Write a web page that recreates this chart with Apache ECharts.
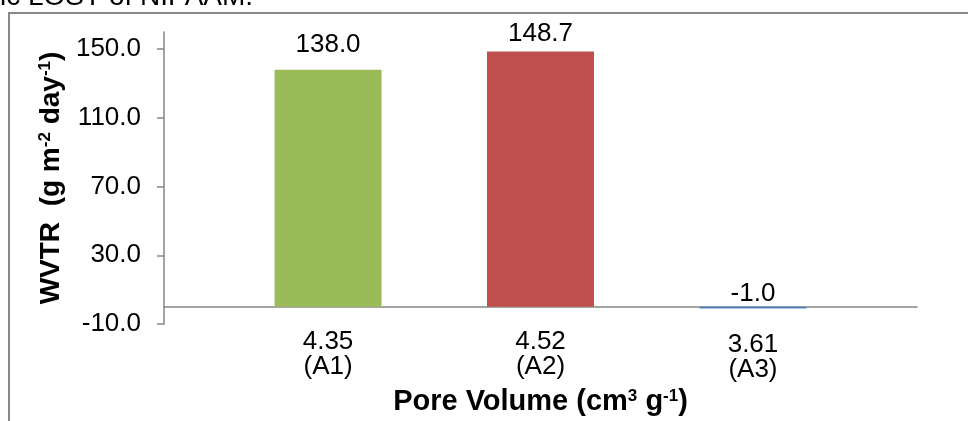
<!DOCTYPE html>
<html><head><meta charset="utf-8">
<script src="https://cdn.jsdelivr.net/npm/echarts@6/dist/echarts.min.js"></script>
<style>html,body{margin:0;padding:0;background:#fff;}#c{width:968px;height:421px;}</style>
</head><body><div id="c"></div>
<script>
const poreVolumes = ['4.35', '4.52', '3.61'];
const sampleNames = ['(A1)', '(A2)', '(A3)'];
const wvtrValues = [138.0, 148.7, -1.0];
const yTickValues = [-10, 30, 70, 110, 150];
const xAxisTitle = 'Pore Volume (cm{sup|3} g{sup|-1})';
const yAxisTitle = 'WVTR  (g m{sup|-2} day{sup|-1})';
const captionText = 'ic LOST of NIPAAM.';

const barColors = ['#9BBB59', '#C0504D', '#4F81BD'];
const labelDistances = [12, 5, 0];
const FONT = "'Liberation Sans', Arial, sans-serif";
const axisGray = '#868686';

const chart = echarts.init(document.getElementById('c'), null, {renderer: 'canvas'});
const supStyle = {fontSize: 17, fontWeight: 'bold', verticalAlign: 'top', color: '#000', fontFamily: FONT};
const option = {
  animation: false,
  backgroundColor: '#ffffff',
  textStyle: {fontFamily: FONT},
  grid: {left: 164, right: 51, top: 32, bottom: 97, containLabel: false, outerBoundsMode: 'none'},
  graphic: [
    {type: 'rect', shape: {x: 9, y: 13, width: 1000, height: 500}, style: {fill: 'none', stroke: '#898989', lineWidth: 2}, silent: true},
    {type: 'text', x: 0, y: 11, style: {text: captionText, fontSize: 28, fontFamily: FONT, fill: '#000', verticalAlign: 'bottom'}, silent: true}
  ],
  xAxis: {
    type: 'value', min: -0.772, max: 2.772,
    axisLine: {show: true, onZero: true, lineStyle: {color: axisGray, width: 1.5}},
    axisTick: {show: false},
    splitLine: {show: false},
    axisLabel: {
      customValues: [0, 1, 2],
      margin: 5,
      formatter: function (v) {
        const i = Math.round(v);
        const key = i === 2 ? 'b' : 'a';
        return '{' + key + '|' + poreVolumes[i] + '}\n{' + key + '|' + sampleNames[i] + '}';
      },
      rich: {
        a: {fontSize: 26, lineHeight: 25, color: '#000', fontFamily: FONT},
        b: {fontSize: 26, lineHeight: 25, color: '#000', fontFamily: FONT, padding: [6, 0, 0, 0]}
      }
    },
    name: xAxisTitle,
    nameLocation: 'middle',
    nameGap: 57,
    nameTextStyle: {
      fontSize: 29, fontWeight: 'bold', color: '#000', fontFamily: FONT,
      rich: {sup: supStyle}
    }
  },
  yAxis: {
    type: 'value', min: -10, max: 160,
    axisLine: {show: true, onZero: false, lineStyle: {color: axisGray, width: 1.5}},
    axisTick: {show: true, customValues: yTickValues, length: 7, inside: false, lineStyle: {color: axisGray, width: 1.5}},
    splitLine: {show: false},
    axisLabel: {customValues: yTickValues, margin: 23, fontSize: 26, color: '#000', fontFamily: FONT,
      formatter: function (v) { return v.toFixed(1); }},
    name: yAxisTitle,
    nameLocation: 'middle',
    nameRotate: 90,
    nameGap: 98,
    nameTextStyle: {
      fontSize: 28, fontWeight: 'bold', color: '#000', fontFamily: FONT,
      rich: {sup: supStyle}
    }
  },
  series: [{
    type: 'bar',
    barWidth: 107,
    data: wvtrValues.map(function (v, i) {
      return {value: [i, v], itemStyle: {color: barColors[i]},
        label: {distance: labelDistances[i]}};
    }),
    label: {show: true, position: 'top', fontSize: 26, color: '#000', fontFamily: FONT,
      formatter: function (p) { return p.value[1].toFixed(1); }}
  }]
};
chart.setOption(option);
</script></body></html>
